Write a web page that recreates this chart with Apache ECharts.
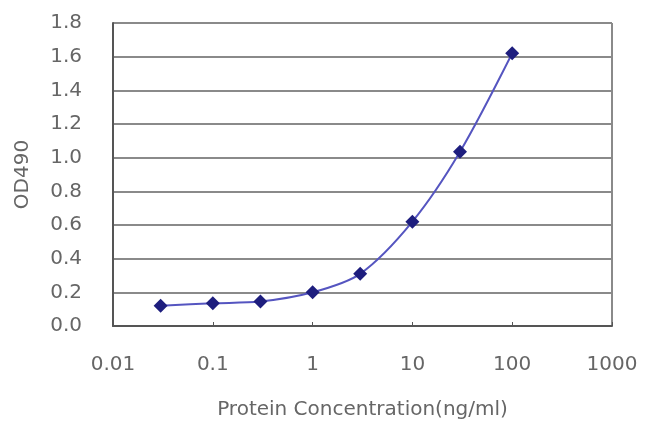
<!DOCTYPE html>
<html><head><meta charset="utf-8">
<script src="https://cdn.jsdelivr.net/npm/echarts@6/dist/echarts.min.js"></script>
<style>html,body{margin:0;padding:0;background:#fff}#c{width:650px;height:435px}</style>
</head><body><div id="c"></div>
<script>
const concentrations = [0.03, 0.1, 0.3, 1, 3, 10, 30, 100];
const od490 = [0.12, 0.135, 0.145, 0.2, 0.31, 0.62, 1.035, 1.62];
const xTickLabels = ['0.01', '0.1', '1', '10', '100', '1000'];
const yMin = 0, yMax = 1.8, yStep = 0.2;

const chart = echarts.init(document.getElementById('c'), null, {renderer: 'canvas'});
const font = 'DejaVu Sans, sans-serif';
const txt = '#666666';
chart.setOption({
  animation: false,
  grid: {left: 113, right: 38, top: 23, bottom: 109, show: false},
  xAxis: {
    type: 'log', logBase: 10, min: 0.01, max: 1000,
    name: 'Protein Concentration(ng/ml)', nameLocation: 'middle', nameGap: 74,
    nameTextStyle: {color: txt, fontSize: 20, fontFamily: font},
    axisLine: {lineStyle: {color: '#555', width: 2}},
    axisTick: {show: true, inside: true, length: 4, lineStyle: {color: '#555'}},
    minorTick: {show: false},
    axisLabel: {color: txt, fontSize: 20, fontFamily: font, margin: 29,
      formatter: function (v) {
        const i = Math.round(Math.log10(v)) + 2;
        return xTickLabels[i] !== undefined ? xTickLabels[i] : '';
      }},
    splitLine: {show: false}
  },
  yAxis: {
    type: 'value', min: yMin, max: yMax, interval: yStep,
    name: 'OD490', nameLocation: 'middle', nameGap: 80, nameRotate: 90,
    nameTextStyle: {color: txt, fontSize: 20, fontFamily: font},
    axisLine: {show: true, lineStyle: {color: '#555', width: 2}},
    axisTick: {show: false},
    axisLabel: {color: txt, fontSize: 20, fontFamily: font, margin: 31,
      formatter: function (v) { return v.toFixed(1); }},
    splitLine: {show: true, lineStyle: {color: '#8a8a8a', width: 2}}
  },
  series: [{
    type: 'line',
    data: concentrations.map((c, i) => [c, od490[i]]),
    smooth: 0.3,
    symbol: 'diamond', symbolSize: 14,
    itemStyle: {color: '#1e1e7e'},
    lineStyle: {color: '#5555c0', width: 2}
  }],
  graphic: [{
    type: 'line', shape: {x1: 612, y1: 23, x2: 612, y2: 326},
    style: {stroke: '#8a8a8a', lineWidth: 2}
  }]
});
</script></body></html>
